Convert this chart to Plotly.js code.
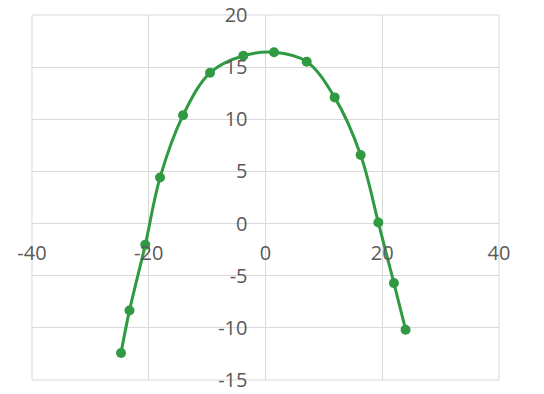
<!DOCTYPE html>
<html>
<head>
<meta charset="utf-8">
<script src="https://cdn.plot.ly/plotly-3.0.1.min.js"></script>
<style>
  html, body { margin: 0; padding: 0; background: #ffffff; }
  #chart { width: 544px; height: 394px; }
</style>
</head>
<body>
<div id="chart"></div>
<script>
// Measured points of the curve
const xValues = [-24.75, -23.3, -20.6, -18.07, -14.13, -9.5, -3.8, 1.46, 7.06, 11.85, 16.3, 19.33, 22.0, 24.0];
const yValues = [-12.41, -8.33, -2.04, 4.41, 10.38, 14.46, 16.09, 16.42, 15.52, 12.1, 6.58, 0.1, -5.71, -10.18];

// Axis ranges and tick labels (plain hyphen minus, spreadsheet style)
const xRange = [-40, 40];
const yRange = [-15, 20];
const xTickVals = [-40, -20, 0, 20, 40];
const xTickText = ['-40', '-20', '0', '20', '40'];
const yTickVals = [-15, -10, -5, 0, 5, 10, 15, 20];
const yTickText = ['-15', '-10', '-5', '0', '5', '10', '15', '20'];

const green = '#2f9a41';
const gridColor = '#d9d9d9';
const labelFont = { family: 'Open Sans, sans-serif', size: 20, color: '#595959' };

// Axes cross at the origin: place each free axis where the other one is zero
const xAxisPos = (0 - yRange[0]) / (yRange[1] - yRange[0]);
const yAxisPos = (0 - xRange[0]) / (xRange[1] - xRange[0]);

const trace = {
  x: xValues,
  y: yValues,
  type: 'scatter',
  mode: 'lines+markers',
  line: { color: green, width: 3, shape: 'spline', smoothing: 1 },
  marker: { color: green, size: 10 },
  hoverinfo: 'skip'
};

const layout = {
  width: 544,
  height: 394,
  margin: { l: 32, r: 45, t: 15, b: 14 },
  paper_bgcolor: '#ffffff',
  plot_bgcolor: '#ffffff',
  showlegend: false,
  xaxis: {
    range: xRange,
    anchor: 'free',
    position: xAxisPos,
    tickmode: 'array',
    tickvals: xTickVals,
    ticktext: xTickText,
    ticks: '',
    ticklabelstandoff: 15,
    showgrid: true,
    gridcolor: gridColor,
    gridwidth: 1,
    zeroline: true,
    zerolinecolor: gridColor,
    zerolinewidth: 1,
    showline: false,
    tickfont: labelFont,
    fixedrange: true
  },
  yaxis: {
    range: yRange,
    anchor: 'free',
    position: yAxisPos,
    tickmode: 'array',
    tickvals: yTickVals,
    ticktext: yTickText,
    ticks: '',
    ticklabelstandoff: 18,
    showgrid: true,
    gridcolor: gridColor,
    gridwidth: 1,
    zeroline: true,
    zerolinecolor: gridColor,
    zerolinewidth: 1,
    showline: false,
    tickfont: labelFont,
    fixedrange: true
  },
  // Frame around the plotting area
  shapes: [{
    type: 'rect', xref: 'paper', yref: 'paper', x0: 0, x1: 1, y0: 0, y1: 1,
    line: { color: gridColor, width: 1 }, layer: 'below'
  }]
};

Plotly.newPlot('chart', [trace], layout, { displayModeBar: false, staticPlot: true });
</script>
</body>
</html>
